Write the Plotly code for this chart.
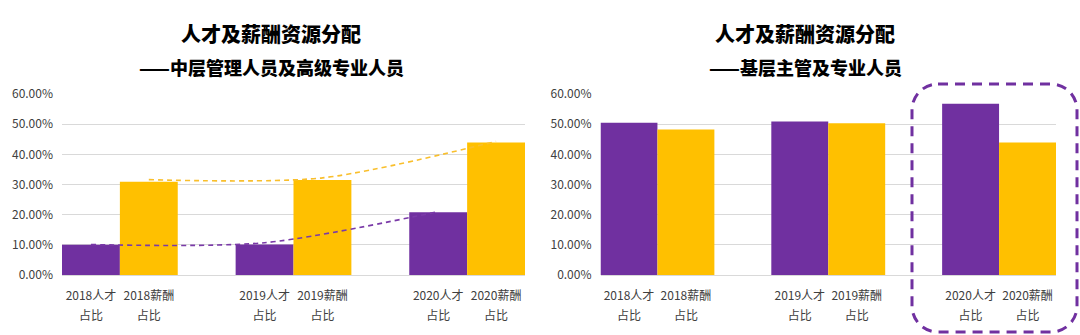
import plotly.graph_objects as go

# ---------------- data ----------------
years = ["2018", "2019", "2020"]
talent_label_top = ["2018人才", "2019人才", "2020人才"]
salary_label_top = ["2018薪酬", "2019薪酬", "2020薪酬"]
label_bottom = "占比"

left_talent = [0.100, 0.101, 0.208]
left_salary = [0.309, 0.315, 0.439]
left_trend_talent = [0.101, 0.107, 0.210]
left_trend_salary = [0.316, 0.322, 0.443]

right_talent = [0.505, 0.509, 0.568]
right_salary = [0.482, 0.503, 0.439]

titles = ["人才及薪酬资源分配", "人才及薪酬资源分配"]
subtitles = ["——中层管理人员及高级专业人员", "——基层主管及专业人员"]

# ---------------- style ----------------
PURPLE = "#7030A0"
YELLOW = "#FFC000"
GRID = "#D9D9D9"
TXT = "#404040"
FONT = "Noto Sans CJK SC"

# slot layout: each year group = talent slot, salary slot, empty slot
talent_x = [3 * i for i in range(len(years))]
salary_x = [3 * i + 1 for i in range(len(years))]
tickvals = [v for pair in zip(talent_x, salary_x) for v in pair]
ticktop = [v for pair in zip(talent_label_top, salary_label_top) for v in pair]
tickbottom = [label_bottom] * len(tickvals)

W, H = 1080, 335
ML, MR, MT, MB = 62, 24, 94, 60
PW = W - ML - MR
PH = H - MT - MB

def px_x(p):
    return (p - ML) / PW

def px_y(p):
    return (H - MB - p) / PH

fig = go.Figure()

for talent, salary, xa, ya in [(left_talent, left_salary, "x", "y"),
                               (right_talent, right_salary, "x2", "y2")]:
    fig.add_trace(go.Bar(x=talent_x, y=talent, width=1, marker_color=PURPLE,
                         marker_line_width=0, xaxis=xa, yaxis=ya,
                         showlegend=False, hoverinfo="skip"))
    fig.add_trace(go.Bar(x=salary_x, y=salary, width=1, marker_color=YELLOW,
                         marker_line_width=0, xaxis=xa, yaxis=ya,
                         showlegend=False, hoverinfo="skip"))

fig.add_trace(go.Scatter(x=talent_x, y=left_trend_talent, mode="lines",
                         line=dict(color="#7A3AA8", width=1.6, dash="5px,4px",
                                   shape="spline", smoothing=0.8),
                         xaxis="x", yaxis="y", showlegend=False, hoverinfo="skip"))
fig.add_trace(go.Scatter(x=salary_x, y=left_trend_salary, mode="lines",
                         line=dict(color="#F9BF2C", width=1.6, dash="5px,4px",
                                   shape="spline", smoothing=0.8),
                         xaxis="x", yaxis="y", showlegend=False, hoverinfo="skip"))

# invisible traces to carry the second-line label axes
for xa, ya in [("x3", "y"), ("x4", "y2")]:
    fig.add_trace(go.Scatter(x=tickvals, y=[0] * len(tickvals), mode="markers",
                             marker=dict(opacity=0, size=1), xaxis=xa, yaxis=ya,
                             showlegend=False, hoverinfo="skip"))

xr = [-0.5, 3 * len(years) - 1.5]
dom_left = [0, px_x(525)]
dom_right = [px_x(600.5), 1]

xcommon = dict(range=xr, tickmode="array", tickvals=tickvals, showgrid=False,
               zeroline=False, showline=False, ticks="", tickangle=0,
               tickfont=dict(family=FONT, size=12, color=TXT), fixedrange=True)
ycommon = dict(range=[0, 0.6], dtick=0.1, tick0=0, tickformat=".2%",
               showgrid=True, gridcolor=GRID, gridwidth=1.3,
               zeroline=True, zerolinecolor=GRID, zerolinewidth=1.3,
               showline=False, ticks="", ticklabelstandoff=8,
               tickfont=dict(family=FONT, size=12, color=TXT), fixedrange=True)

fig.update_layout(
    width=W, height=H,
    margin=dict(l=ML, r=MR, t=MT, b=MB, pad=0),
    paper_bgcolor="white", plot_bgcolor="white",
    barmode="overlay", showlegend=False,
    xaxis=dict(domain=dom_left, anchor="y", ticktext=ticktop,
               ticklabelstandoff=12, **xcommon),
    xaxis2=dict(domain=dom_right, anchor="y2", ticktext=ticktop,
                ticklabelstandoff=12, **xcommon),
    xaxis3=dict(overlaying="x", anchor="y", ticktext=tickbottom,
                ticklabelstandoff=32, side="bottom", **xcommon),
    xaxis4=dict(overlaying="x2", anchor="y2", ticktext=tickbottom,
                ticklabelstandoff=32, side="bottom", **xcommon),
    yaxis=dict(domain=[0, 1], anchor="x", **ycommon),
    yaxis2=dict(domain=[0, 1], anchor="x2", **ycommon),
)

# titles
for cx, t, s in [(271, titles[0], subtitles[0]), (805, titles[1], subtitles[1])]:
    fig.add_annotation(x=px_x(cx), y=px_y(33), xref="paper", yref="paper",
                       text=t, showarrow=False,
                       xanchor="center", yanchor="middle",
                       font=dict(family=FONT, size=20, color="#000000", weight=900))
    fig.add_annotation(x=px_x(cx), y=px_y(67), xref="paper", yref="paper",
                       text=s, showarrow=False,
                       xanchor="center", yanchor="middle",
                       font=dict(family=FONT, size=18, color="#000000", weight=900))

# dashed rounded highlight box around 2020 group (right chart)
L, R, T, B, r = 912, 1077, 84, 332, 26
k = 0.5523 * r
def P(x, y):
    return f"{px_x(x):.5f},{px_y(y):.5f}"
path = (
    f"M {P(L + r, T)} L {P(R - r, T)} "
    f"C {P(R - r + k, T)} {P(R, T + r - k)} {P(R, T + r)} "
    f"L {P(R, B - r)} "
    f"C {P(R, B - r + k)} {P(R - r + k, B)} {P(R - r, B)} "
    f"L {P(L + r, B)} "
    f"C {P(L + r - k, B)} {P(L, B - r + k)} {P(L, B - r)} "
    f"L {P(L, T + r)} "
    f"C {P(L, T + r - k)} {P(L + r - k, T)} {P(L + r, T)} Z"
)
fig.add_shape(type="path", path=path, xref="paper", yref="paper",
              line=dict(color=PURPLE, width=3, dash="10px,7px"),
              fillcolor="rgba(0,0,0,0)", layer="above")

fig.write_html("out.html")
